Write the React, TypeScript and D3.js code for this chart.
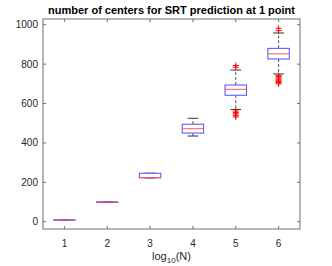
import * as d3 from "d3";
import React, { useEffect, useRef } from "react";

const groups = [1, 2, 3, 4, 5, 6];
const q1 = [9, 99.5, 223, 450, 642, 826];
const medians = [9.5, 100, 224, 472, 672, 852];
const q3 = [10, 100.5, 246, 495, 694, 880];
const whiskerLow = [9, 99.5, 222, 435, 570, 750];
const whiskerHigh = [10, 100.5, 246, 525, 770, 958];
const outliers = [
  [],
  [],
  [],
  [],
  [793, 784, 562, 555, 548, 540, 532],
  [982, 970, 742, 736, 730, 724, 718, 712, 706, 700],
];
const yTicks = [0, 200, 400, 600, 800, 1000];

export default function App() {
  const svgRef = useRef<SVGSVGElement>(null);

  useEffect(() => {
    const svg = d3.select(svgRef.current);
    svg.selectAll("*").remove();

    const width = 332;
    const height = 266;
    const margin = { top: 19, right: 32, bottom: 37, left: 43 };
    const plotWidth = width - margin.left - margin.right;
    const plotHeight = height - margin.top - margin.bottom;
    const axisColor = "#6e6e6e";
    const textColor = "#262626";
    const font = "'Liberation Sans', Arial, sans-serif";

    const g = svg.append("g").attr("transform", `translate(${margin.left},${margin.top})`);

    const x = d3.scaleLinear().domain([0.5, 6.5]).range([0, plotWidth]);
    const y = d3.scaleLinear().domain([-37, 1029]).range([plotHeight, 0]);
    const boxW = x(1.25) - x(1);
    const capW = x(1.125) - x(1);

    // Axes box
    g.append("rect")
      .attr("width", plotWidth)
      .attr("height", plotHeight)
      .attr("fill", "white")
      .attr("stroke", axisColor)
      .attr("stroke-width", 1);

    // Ticks, inside on all four sides
    const tickLen = 3;
    yTicks.forEach((t) => {
      g.append("line").attr("x1", 0).attr("x2", tickLen).attr("y1", y(t)).attr("y2", y(t))
        .attr("stroke", axisColor);
      g.append("line").attr("x1", plotWidth).attr("x2", plotWidth - tickLen).attr("y1", y(t)).attr("y2", y(t))
        .attr("stroke", axisColor);
      g.append("text")
        .attr("x", -5)
        .attr("y", y(t))
        .attr("dy", "0.35em")
        .attr("text-anchor", "end")
        .attr("fill", textColor)
        .style("font-family", font)
        .style("font-size", "10px")
        .text(t);
    });
    groups.forEach((t) => {
      g.append("line").attr("x1", x(t)).attr("x2", x(t)).attr("y1", plotHeight).attr("y2", plotHeight - tickLen)
        .attr("stroke", axisColor);
      g.append("line").attr("x1", x(t)).attr("x2", x(t)).attr("y1", 0).attr("y2", tickLen)
        .attr("stroke", axisColor);
      g.append("text")
        .attr("x", x(t))
        .attr("y", plotHeight + 18)
        .attr("text-anchor", "middle")
        .attr("fill", textColor)
        .style("font-family", font)
        .style("font-size", "10px")
        .text(t);
    });

    // Boxes
    groups.forEach((grp, i) => {
      const cx = x(grp);
      // whiskers
      g.append("line")
        .attr("x1", cx).attr("x2", cx)
        .attr("y1", y(q3[i])).attr("y2", y(whiskerHigh[i]))
        .attr("stroke", "#555").attr("stroke-width", 1).attr("stroke-dasharray", "3,2");
      g.append("line")
        .attr("x1", cx).attr("x2", cx)
        .attr("y1", y(q1[i])).attr("y2", y(whiskerLow[i]))
        .attr("stroke", "#555").attr("stroke-width", 1).attr("stroke-dasharray", "3,2");
      [whiskerLow[i], whiskerHigh[i]].forEach((w) => {
        g.append("line")
          .attr("x1", cx - capW).attr("x2", cx + capW)
          .attr("y1", y(w)).attr("y2", y(w))
          .attr("stroke", "#333").attr("stroke-width", 1);
      });
      // box
      g.append("rect")
        .attr("x", cx - boxW)
        .attr("y", y(q3[i]))
        .attr("width", boxW * 2)
        .attr("height", Math.max(0.5, y(q1[i]) - y(q3[i])))
        .attr("fill", "white")
        .attr("stroke", "#4d4dff")
        .attr("stroke-width", 1);
      // median
      g.append("line")
        .attr("x1", cx - boxW).attr("x2", cx + boxW)
        .attr("y1", y(medians[i])).attr("y2", y(medians[i]))
        .attr("stroke", "#ff5a5a").attr("stroke-width", 1);
      // outliers
      outliers[i].forEach((o) => {
        const oy = y(o);
        g.append("path")
          .attr("d", `M${cx - 3},${oy}H${cx + 3}M${cx},${oy - 3}V${oy + 3}`)
          .attr("stroke", "#ff0000")
          .attr("stroke-width", 1)
          .attr("fill", "none");
      });
    });

    // Title
    svg.append("text")
      .attr("x", margin.left + plotWidth / 2)
      .attr("y", 14)
      .attr("text-anchor", "middle")
      .attr("fill", "#000")
      .style("font-family", font)
      .style("font-size", "11px")
      .style("font-weight", "bold")
      .text("number of centers for SRT prediction at 1 point");

    // X label with subscript
    const xl = svg.append("text")
      .attr("x", margin.left + plotWidth / 2)
      .attr("y", 260)
      .attr("text-anchor", "middle")
      .attr("fill", textColor)
      .style("font-family", font)
      .style("font-size", "11px");
    xl.append("tspan").text("log");
    xl.append("tspan").attr("dy", 3).style("font-size", "8px").text("10");
    xl.append("tspan").attr("dy", -3).text("(N)");
  }, []);

  return <svg ref={svgRef} width={332} height={266} style={{ position: "absolute", left: 0, top: 0 }} />;
}
